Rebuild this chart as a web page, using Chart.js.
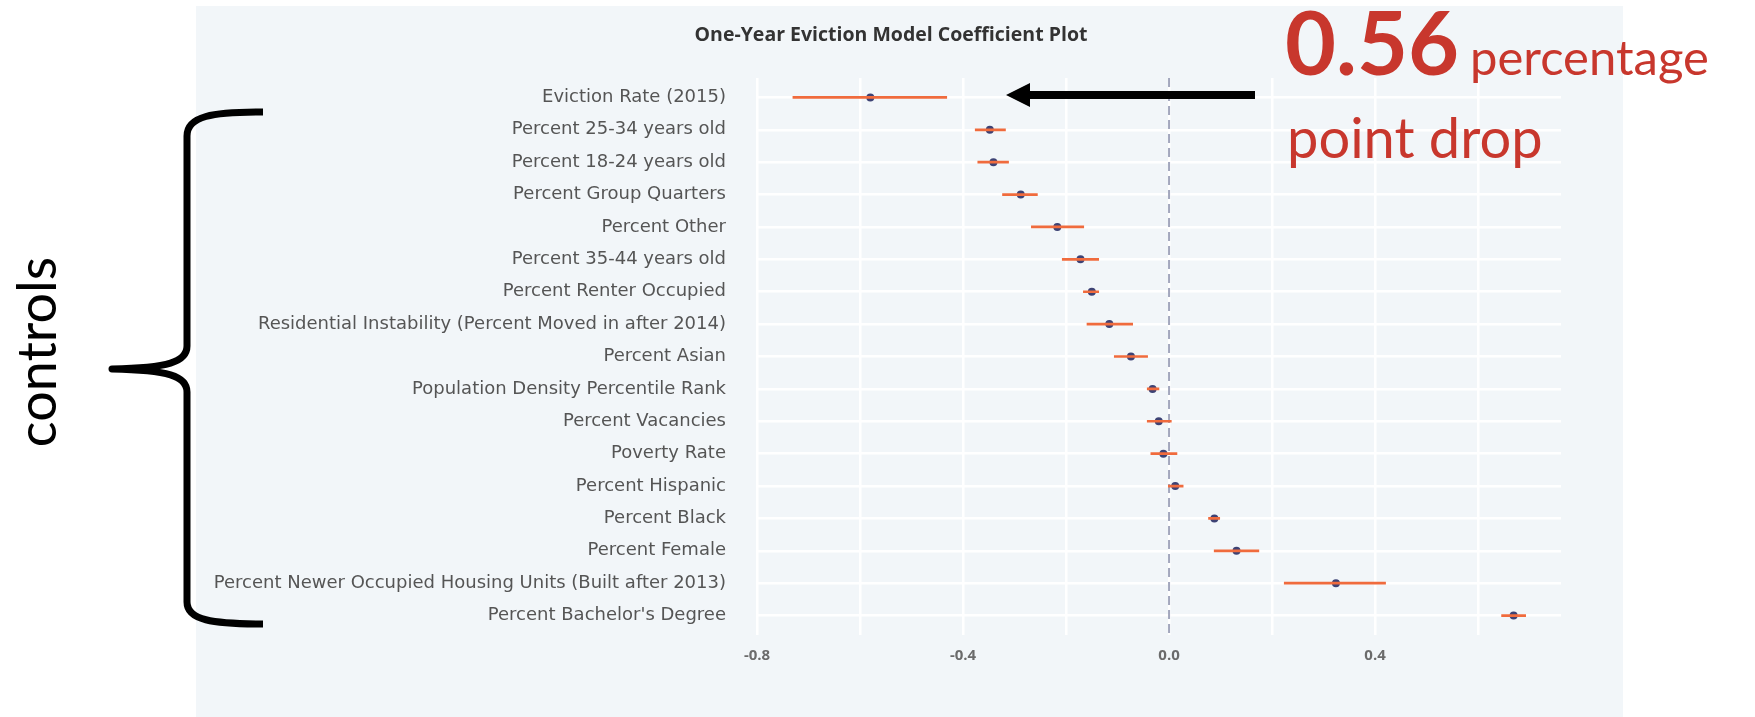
<!DOCTYPE html>
<html>
<head>
<meta charset="utf-8">
<script src="https://cdn.jsdelivr.net/npm/chart.js@4.4.1/dist/chart.umd.min.js"></script>
<style>
    html, body { margin: 0; padding: 0; background: #ffffff; }
    #wrap { position: relative; width: 1755px; height: 717px; overflow: hidden; }
    #panel { position: absolute; left: 196px; top: 6px; width: 1427px; height: 711px; background: #f2f6f9; }
    #chart { position: absolute; left: 0; top: 0; }
    #notes { position: absolute; left: 0; top: 0; pointer-events: none; }
</style>
</head>
<body>
<div id="wrap">
    <div id="panel"></div>
    <canvas id="chart" width="1755" height="717"></canvas>
    <svg id="notes" width="1755" height="717" xmlns="http://www.w3.org/2000/svg">
        <text x="891" y="41" text-anchor="middle" font-family="'Open Sans', 'Noto Sans', sans-serif" font-weight="bold" font-size="19.5" fill="#333333">One-Year Eviction Model Coefficient Plot</text>
        <!-- arrow pointing at the eviction rate estimate -->
        <line x1="1255" y1="95" x2="1026" y2="95" stroke="#000" stroke-width="8"/>
        <polygon points="1006,95 1030,83 1030,107" fill="#000"/>
        <text x="1285" y="75" font-family="Lato, 'Noto Sans', sans-serif" font-weight="bold" font-size="88" fill="#c8372d">0.56</text>
        <text x="1470" y="75" font-family="Lato, 'Noto Sans', sans-serif" font-size="49" fill="#c8372d">percentage</text>
        <text x="1287" y="158" font-family="Lato, 'Noto Sans', sans-serif" font-size="56" fill="#c8372d">point drop</text>
        <!-- brace around the control variables -->
        <path d="M263,112 C212,112 187,116 187,136 L187,346 C187,362 168,368 112,369 C168,370 187,376 187,392 L187,602 C187,620 212,624 263,624"
              fill="none" stroke="#000" stroke-width="7" stroke-linejoin="round"/>
        <text transform="translate(56,352) rotate(-90)" text-anchor="middle" font-family="Lato, 'Noto Sans', sans-serif" font-size="54" fill="#000">controls</text>
    </svg>
</div>
<script>
// coefficient estimates, top row first
const categories = [
    'Eviction Rate (2015)',
    'Percent 25-34 years old',
    'Percent 18-24 years old',
    'Percent Group Quarters',
    'Percent Other',
    'Percent 35-44 years old',
    'Percent Renter Occupied',
    'Residential Instability (Percent Moved in after 2014)',
    'Percent Asian',
    'Population Density Percentile Rank',
    'Percent Vacancies',
    'Poverty Rate',
    'Percent Hispanic',
    'Percent Black',
    'Percent Female',
    'Percent Newer Occupied Housing Units (Built after 2013)',
    "Percent Bachelor's Degree"
];
const estimates = [-0.580, -0.348, -0.341, -0.288, -0.217, -0.172, -0.150, -0.116, -0.074,
    -0.032, -0.020, -0.011, 0.012, 0.088, 0.131, 0.324, 0.669];
const lower = [-0.731, -0.377, -0.372, -0.324, -0.268, -0.208, -0.167, -0.160, -0.107,
    -0.043, -0.043, -0.036, -0.002, 0.076, 0.087, 0.223, 0.645];
const upper = [-0.431, -0.317, -0.311, -0.255, -0.165, -0.136, -0.136, -0.070, -0.041,
    -0.019, 0.005, 0.016, 0.028, 0.099, 0.175, 0.421, 0.693];
const xTicks = [-0.8, -0.6, -0.4, -0.2, 0, 0.2, 0.4, 0.6];

const intervalPoints = [];
categories.forEach((c, i) => {
    intervalPoints.push({ x: lower[i], y: i }, { x: upper[i], y: i }, { x: null, y: null });
});

// dashed reference line at zero
const zeroLine = {
    id: 'zeroLine',
    beforeDatasetsDraw(chart) {
        const { ctx, chartArea, scales } = chart;
        const x = scales.x.getPixelForValue(0);
        ctx.save();
        ctx.strokeStyle = '#a3a7bd';
        ctx.lineWidth = 2;
        ctx.setLineDash([9, 5]);
        ctx.beginPath();
        ctx.moveTo(x, chartArea.top);
        ctx.lineTo(x, chartArea.bottom);
        ctx.stroke();
        ctx.restore();
    }
};

new Chart(document.getElementById('chart'), {
    type: 'scatter',
    data: {
        datasets: [
            {
                label: 'interval',
                data: intervalPoints,
                showLine: true,
                spanGaps: false,
                borderColor: '#f06b3d',
                borderWidth: 2.7,
                pointRadius: 0
            },
            {
                label: 'estimate',
                data: estimates.map((v, i) => ({ x: v, y: i })),
                pointRadius: 4,
                pointBackgroundColor: '#3d4274',
                pointBorderWidth: 0
            }
        ]
    },
    options: {
        responsive: false,
        animation: false,
        layout: { padding: { left: 0, right: 194, top: 78, bottom: 42 } },
        plugins: { legend: { display: false }, tooltip: { enabled: false } },
        scales: {
            x: {
                type: 'linear',
                min: -0.802,
                max: 0.761,
                afterBuildTicks: (scale) => { scale.ticks = xTicks.map(v => ({ value: v })); },
                afterFit: (scale) => { scale.height = 40; },
                grid: { color: '#ffffff', lineWidth: 2.5, drawTicks: false },
                border: { display: false },
                ticks: {
                    padding: 12,
                    color: '#6b6b6b',
                    font: { family: '"Open Sans", "Noto Sans", sans-serif', size: 15, weight: 'bold' },
                    callback: (v) => Math.abs(v / 0.4 - Math.round(v / 0.4)) < 1e-6 ? v.toFixed(1) : ''
                }
            },
            y: {
                type: 'linear',
                reverse: true,
                min: -0.6,
                max: categories.length - 0.4,
                afterBuildTicks: (scale) => { scale.ticks = categories.map((c, i) => ({ value: i })); },
                afterFit: (scale) => { scale.width = 756; },
                grid: { color: '#ffffff', lineWidth: 2.5, drawTicks: false },
                border: { display: false },
                ticks: {
                    padding: 30,
                    color: '#555555',
                    font: { family: '"DejaVu Sans", "Open Sans", sans-serif', size: 18 },
                    callback: (v) => categories[v]
                }
            }
        }
    },
    plugins: [zeroLine]
});
</script>
</body>
</html>
